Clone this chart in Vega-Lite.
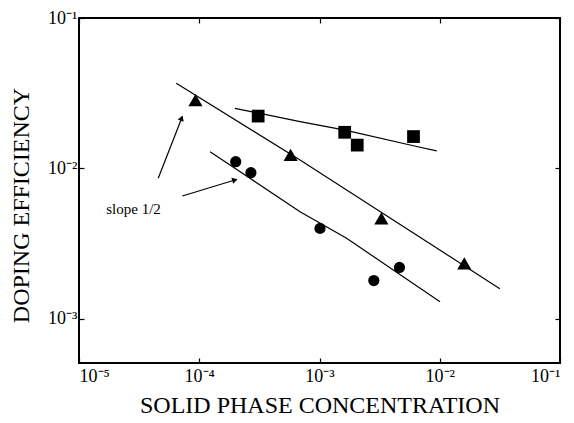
{
  "$schema": "https://vega.github.io/schema/vega-lite/v6.json",
  "width": 481,
  "height": 345,
  "autosize": {"type": "none"},
  "padding": {"left": 79, "top": 18, "right": 14, "bottom": 60},
  "background": "white",
  "config": {
    "view": {"stroke": "black", "strokeWidth": 2},
    "font": "Liberation Serif",
    "axis": {
      "labelFont": "Liberation Serif",
      "titleFont": "Liberation Serif",
      "labelColor": "black",
      "titleColor": "black",
      "tickColor": "black",
      "labelFontSize": 18,
      "titleFontSize": 24,
      "titleFontWeight": "normal",
      "grid": false,
      "domain": false,
      "tickSize": -5,
      "tickWidth": 1.2
    }
  },
  "datasets": {
    "pts": [
      {"series": "tri", "x": 0.000093, "y": 0.0285},
      {"series": "tri", "x": 0.000575, "y": 0.0123},
      {"series": "tri", "x": 0.00327, "y": 0.00467},
      {"series": "tri", "x": 0.0160, "y": 0.00234},
      {"series": "sq", "x": 0.000309, "y": 0.0223},
      {"series": "sq", "x": 0.00162, "y": 0.0174},
      {"series": "sq", "x": 0.00206, "y": 0.0143},
      {"series": "sq", "x": 0.00605, "y": 0.0163},
      {"series": "circ", "x": 0.000201, "y": 0.0111},
      {"series": "circ", "x": 0.000269, "y": 0.00938},
      {"series": "circ", "x": 0.00101, "y": 0.0040},
      {"series": "circ", "x": 0.00462, "y": 0.0022},
      {"series": "circ", "x": 0.00283, "y": 0.0018}
    ],
    "lines": [
      {"series": "tri", "x": 0.0000644, "y": 0.0368},
      {"series": "tri", "x": 0.000689, "y": 0.01139},
      {"series": "tri", "x": 0.0316, "y": 0.00159},
      {"series": "sq", "x": 0.000198, "y": 0.0251},
      {"series": "sq", "x": 0.000689, "y": 0.0205},
      {"series": "sq", "x": 0.00163, "y": 0.0180},
      {"series": "sq", "x": 0.00643, "y": 0.0140},
      {"series": "sq", "x": 0.00944, "y": 0.0131},
      {"series": "circ", "x": 0.000123, "y": 0.01294},
      {"series": "circ", "x": 0.000689, "y": 0.00516},
      {"series": "circ", "x": 0.00168, "y": 0.00344},
      {"series": "circ", "x": 0.01005, "y": 0.0013}
    ],
    "arrows": [
      {"id": "a1", "x": 0.0000456, "y": 0.00861, "x2": 0.0000714, "y2": 0.0216},
      {"id": "a2", "x": 0.0000723, "y": 0.00656, "x2": 0.000198, "y2": 0.00839}
    ],
    "notes": [
      {"x": 0.0000284, "y": 0.00538, "label": "slope 1/2"}
    ]
  },
  "layer": [
    {
      "data": {"name": "lines"},
      "mark": {"type": "line", "color": "black", "strokeWidth": 1.2},
      "encoding": {
        "x": {"field": "x", "type": "quantitative", "scale": {"type": "log", "domain": [0.00001, 0.1], "nice": false},
              "axis": {"orient": "top", "values": [0.00001, 0.0001, 0.001, 0.01, 0.1], "labels": false, "title": null}},
        "y": {"field": "y", "type": "quantitative", "scale": {"type": "log", "domain": [0.00051, 0.1], "nice": false},
              "axis": {"orient": "right", "values": [0.001, 0.01, 0.1], "labels": false, "title": null}},
        "detail": {"field": "series"}
      }
    },
    {
      "data": {"name": "pts"},
      "mark": {"type": "point", "filled": true, "color": "black", "opacity": 1},
      "encoding": {
        "x": {"field": "x", "type": "quantitative",
              "axis": {"orient": "bottom", "values": [0.00001, 0.0001, 0.001, 0.01, 0.1], "title": "SOLID PHASE CONCENTRATION",
                       "labelPadding": 9, "titlePadding": 8,
                       "labelExpr": "'10' + replace(replace(replace(replace(replace(replace('' + round(log(datum.value)/LN10), '-', '⁻'), '1', '¹'), '2', '²'), '3', '³'), '4', '⁴'), '5', '⁵')"}},
        "y": {"field": "y", "type": "quantitative",
              "axis": {"orient": "left", "values": [0.001, 0.01, 0.1], "title": "DOPING EFFICIENCY",
                       "labelPadding": 7, "titlePadding": 14, "titleY": 187,
                       "labelExpr": "'10' + replace(replace(replace(replace(replace(replace('' + round(log(datum.value)/LN10), '-', '⁻'), '1', '¹'), '2', '²'), '3', '³'), '4', '⁴'), '5', '⁵')"}},
        "shape": {"field": "series", "type": "nominal",
                  "scale": {"domain": ["tri", "sq", "circ"], "range": ["triangle-up", "square", "circle"]},
                  "legend": null},
        "size": {"field": "series", "type": "nominal",
                 "scale": {"domain": ["tri", "sq", "circ"], "range": [200, 125, 125]},
                 "legend": null}
      }
    },
    {
      "data": {"name": "arrows"},
      "mark": {"type": "rule", "color": "black", "strokeWidth": 1.2},
      "encoding": {
        "x": {"field": "x", "type": "quantitative", "axis": null},
        "y": {"field": "y", "type": "quantitative", "axis": null},
        "x2": {"field": "x2"},
        "y2": {"field": "y2"}
      }
    },
    {
      "data": {"name": "arrows"},
      "transform": [{"filter": "datum.id == 'a1'"}],
      "mark": {"type": "point", "shape": "triangle-up", "filled": true, "color": "black", "opacity": 1, "size": 40, "angle": 21},
      "encoding": {
        "x": {"field": "x2", "type": "quantitative", "axis": null},
        "y": {"field": "y2", "type": "quantitative", "axis": null}
      }
    },
    {
      "data": {"name": "arrows"},
      "transform": [{"filter": "datum.id == 'a2'"}],
      "mark": {"type": "point", "shape": "triangle-up", "filled": true, "color": "black", "opacity": 1, "size": 40, "angle": 73},
      "encoding": {
        "x": {"field": "x2", "type": "quantitative", "axis": null},
        "y": {"field": "y2", "type": "quantitative", "axis": null}
      }
    },
    {
      "data": {"name": "notes"},
      "mark": {"type": "text", "font": "Liberation Serif", "fontSize": 15, "color": "black", "align": "center", "baseline": "middle"},
      "encoding": {
        "x": {"field": "x", "type": "quantitative", "axis": null},
        "y": {"field": "y", "type": "quantitative", "axis": null},
        "text": {"field": "label"}
      }
    }
  ],
  "resolve": {"axis": {"x": "independent", "y": "independent"}}
}
